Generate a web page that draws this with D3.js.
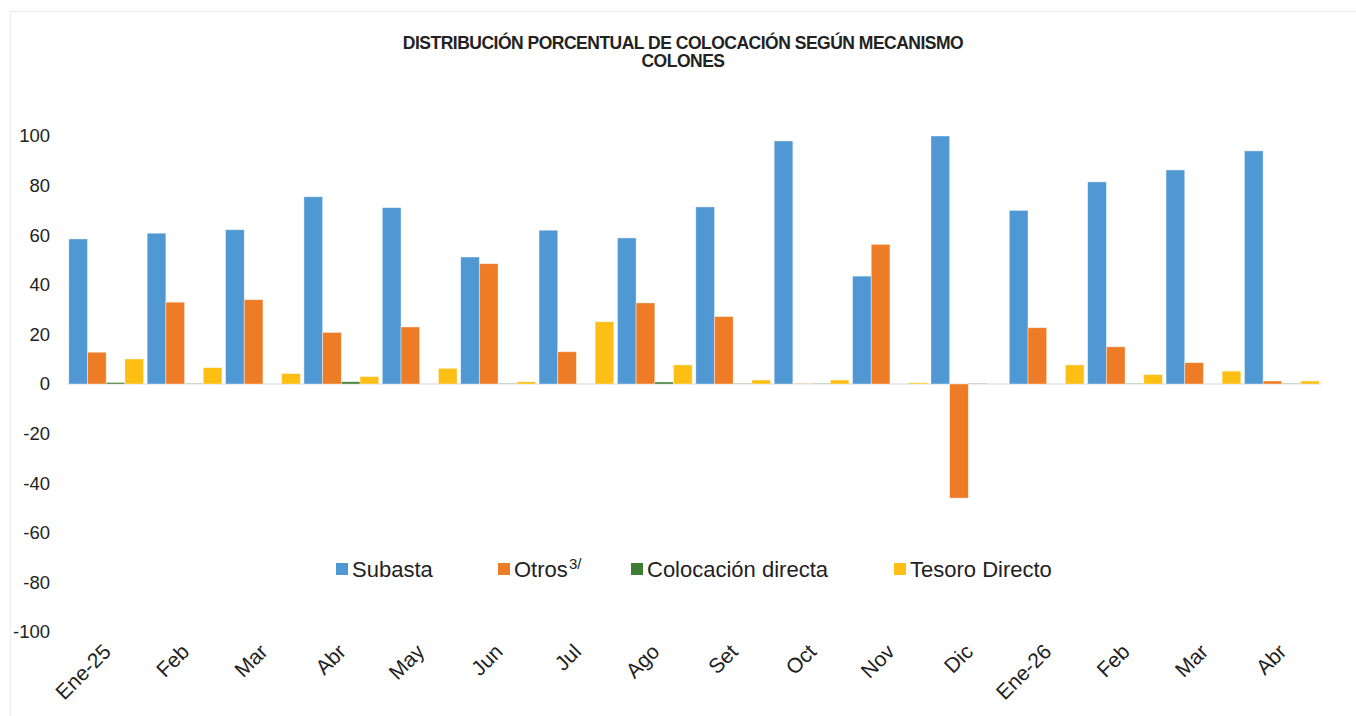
<!DOCTYPE html>
<meta charset="utf-8">
<head>
  <script src="https://d3js.org/d3.v7.min.js"></script>
  <style>
    body { margin: 0; background: #fff; }
    text { font-family: "Liberation Sans", Arial, sans-serif; fill: #222; }
  </style>
</head>
<body>
  <div id="chart"></div>
  <script>
    var months = ["Ene-25", "Feb", "Mar", "Abr", "May", "Jun", "Jul", "Ago",
      "Set", "Oct", "Nov", "Dic", "Ene-26", "Feb ", "Mar ", "Abr "];
    var seriesNames = ["Subasta", "Otros", "Colocación directa", "Tesoro Directo"];
    var subasta = [58.5, 60.8, 62.2, 75.5, 71.1, 51.2, 62.0, 58.9, 71.4, 98.0, 43.5, 100.0, 70.0, 81.5, 86.3, 94.0];
    var otros = [12.8, 33.0, 34.0, 20.8, 23.0, 48.5, 13.0, 32.7, 27.2, 0.2, 56.3, -46.0, 22.7, 15.0, 8.6, 1.2];
    var directa = [0.6, 0.2, 0.0, 0.9, 0.0, 0.2, 0.0, 0.8, 0.2, 0.2, 0.0, 0.2, 0.0, 0.2, 0.0, 0.2];
    var tesoro = [10.1, 6.6, 4.2, 3.0, 6.3, 0.9, 25.1, 7.7, 1.6, 1.6, 0.5, 0.0, 7.7, 3.8, 5.2, 1.2];
    var yTicks = [-100, -80, -60, -40, -20, 0, 20, 40, 60, 80, 100];
    var colors = ["#5098d3", "#ee7b25", "#3f7d35", "#fdbf14"];

    var W = 1356, H = 716;
    var svg = d3.select("#chart").append("svg")
      .attr("width", W).attr("height", H);

    // light frame of the chart area
    svg.append("rect")
      .attr("x", 10.5).attr("y", 11.5)
      .attr("width", W).attr("height", H)
      .attr("fill", "none").attr("stroke", "#ececec");

    svg.append("text").attr("x", 683).attr("y", 49)
      .attr("text-anchor", "middle").style("font-size", "17.5px").style("font-weight", "bold")
      .style("letter-spacing", "-0.5px")
      .text("DISTRIBUCIÓN PORCENTUAL DE COLOCACIÓN SEGÚN MECANISMO");
    svg.append("text").attr("x", 683).attr("y", 67)
      .attr("text-anchor", "middle").style("font-size", "17.5px").style("font-weight", "bold")
      .style("letter-spacing", "-0.5px")
      .text("COLONES");

    var x0 = d3.scaleBand().domain(months).range([67, 1321])
      .paddingInner(0.046).paddingOuter(0.023);
    var x1 = d3.scaleBand().domain(seriesNames).range([0, x0.bandwidth()]);
    var y = d3.scaleLinear().domain([-100, 100]).range([632, 136]);

    // y labels
    svg.append("g").selectAll("text").data(yTicks).join("text")
      .attr("x", 50).attr("y", d => y(d)).attr("dy", "0.35em")
      .attr("text-anchor", "end").style("font-size", "18.5px")
      .text(d => d);

    // zero line
    svg.append("line")
      .attr("x1", 67).attr("x2", 1321)
      .attr("y1", y(0)).attr("y2", y(0))
      .attr("stroke", "#e3e3e3").attr("stroke-width", 1.5);

    var data = months.map((m, i) => ({
      month: m,
      values: [subasta[i], otros[i], directa[i], tesoro[i]]
    }));

    var groups = svg.append("g").selectAll("g").data(data).join("g")
      .attr("transform", d => "translate(" + x0(d.month) + ",0)");

    groups.selectAll("rect")
      .data(d => d.values.map((v, j) => ({ key: seriesNames[j], value: v, color: colors[j] })))
      .join("rect")
      .attr("x", d => x1(d.key))
      .attr("width", x1.bandwidth())
      .attr("y", d => y(Math.max(0, d.value)))
      .attr("height", d => Math.abs(y(d.value) - y(0)))
      .attr("fill", d => d.color)
      .attr("stroke", "#fff").attr("stroke-opacity", 0.5).attr("stroke-width", 0.8);

    // x labels
    svg.append("g").selectAll("text").data(months).join("text")
      .attr("transform", d => "translate(" + (x0(d) + x0.bandwidth() / 2 + 6) + ",653) rotate(-45)")
      .attr("text-anchor", "end").style("font-size", "21px")
      .text(d => d.trim());

    // legend
    var legendX = [336, 498, 631, 894];
    var legend = svg.append("g");
    seriesNames.forEach((name, i) => {
      legend.append("rect")
        .attr("x", legendX[i]).attr("y", 563)
        .attr("width", 12).attr("height", 12)
        .attr("fill", colors[i]);
      legend.append("text")
        .attr("x", legendX[i] + 16).attr("y", 577)
        .style("font-size", "22px")
        .text(name);
      if (name === "Otros") {
        legend.append("text")
          .attr("x", legendX[i] + 71).attr("y", 569)
          .style("font-size", "15px")
          .text("3/");
      }
    });
  </script>
</body>
</html>
